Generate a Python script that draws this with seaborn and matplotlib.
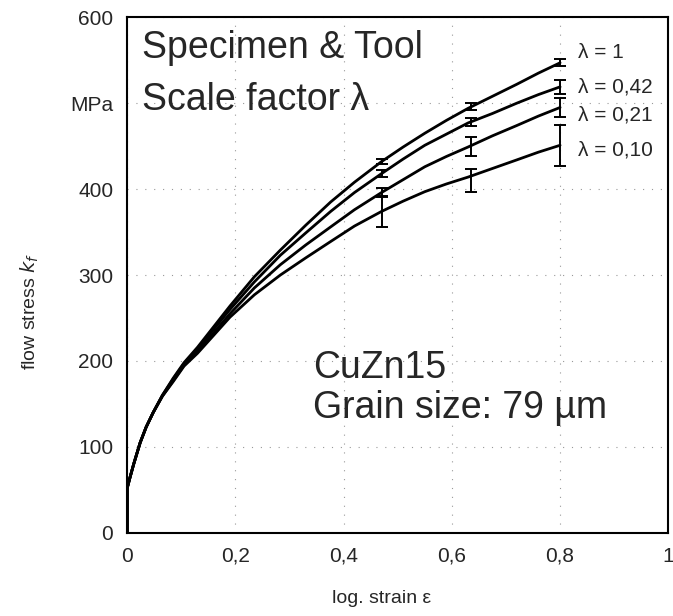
import numpy as np
import pandas as pd
import matplotlib
matplotlib.use("Agg")
import matplotlib.pyplot as plt
import seaborn as sns

# Flow curves of CuZn15 (grain size 79 µm) for four scale factors
strain = [0.0, 0.0, 0.005, 0.012, 0.024, 0.035, 0.048, 0.065, 0.085, 0.105, 0.13, 0.16,
          0.19, 0.235, 0.283, 0.33, 0.376, 0.42, 0.47, 0.51, 0.55, 0.59, 0.63, 0.675,
          0.72, 0.76, 0.80]
stress_l100 = [0, 52, 64, 80, 105, 123, 140, 160, 180, 198, 216, 240,
               264, 298, 329, 358, 385, 408, 432, 449, 465, 480, 494, 508,
               522, 535, 547]
stress_l042 = [0, 52, 64, 80, 105, 123, 140, 160, 179, 197, 214, 237,
               260, 292, 323, 349, 374, 396, 418, 435, 451, 464, 477, 488,
               500, 510, 519]
stress_l021 = [0, 52, 64, 80, 105, 123, 140, 159, 177, 195, 211, 233,
               255, 285, 312, 335, 356, 376, 396, 411, 426, 438, 449, 462,
               474, 485, 495]
stress_l010 = [0, 52, 64, 80, 105, 123, 140, 159, 176, 194, 209, 230,
               251, 277, 300, 320, 339, 357, 374, 386, 397, 406, 414, 424,
               434, 443, 451]

series_labels = ["λ = 1", "λ = 0,42", "λ = 0,21", "λ = 0,10"]

# Measured points with scatter bands
meas_strain = [0.47, 0.635, 0.80]
meas_l100 = [432, 496, 547]
meas_l042 = [418, 478, 519]
meas_l021 = [396, 450, 495]
meas_l010 = [374, 410, 451]
err_l100 = [3, 4, 4]
err_l042 = [4, 5, 8]
err_l021 = [5, 11, 11]
err_l010 = [18, 13, 24]

x_ticks = [0, 0.2, 0.4, 0.6, 0.8, 1.0]
x_ticklabels = ["0", "0,2", "0,4", "0,6", "0,8", "1"]
y_ticks = [0, 100, 200, 300, 400, 500, 600]
y_ticklabels = ["0", "100", "200", "300", "400", "MPa", "600"]

sns.set_theme(style="white")
plt.rcParams["font.family"] = ["Liberation Sans", "DejaVu Sans"]

curves = [stress_l100, stress_l042, stress_l021, stress_l010]
df = pd.concat(
    [pd.DataFrame({"strain": strain, "stress": s, "scale": lab})
     for s, lab in zip(curves, series_labels)],
    ignore_index=True,
)

fig = plt.figure(figsize=(6.73, 6.16), dpi=100)
ax = fig.add_axes([0.189, 0.135, 0.804, 0.837])

sns.lineplot(data=df, x="strain", y="stress", hue="scale",
             estimator=None, sort=False, palette=["black"] * 4,
             linewidth=2.0, legend=False, ax=ax)

for vals, errs in zip([meas_l100, meas_l042, meas_l021, meas_l010],
                      [err_l100, err_l042, err_l021, err_l010]):
    ax.errorbar(meas_strain, vals, yerr=errs, fmt="none", ecolor="black",
                elinewidth=1.4, capsize=4, capthick=1.4)

# curve labels at the right end
label_y = [559, 519, 486, 445]
for lab, yy in zip(series_labels, label_y):
    ax.text(0.834, yy, lab, fontsize=15, va="center", ha="left")

ax.text(0.028, 552, "Specimen & Tool", fontsize=27, va="baseline", ha="left")
ax.text(0.028, 492, "Scale factor λ", fontsize=27, va="baseline", ha="left")
ax.text(0.344, 180, "CuZn15", fontsize=27, va="baseline", ha="left")
ax.text(0.344, 134, "Grain size: 79 µm", fontsize=27, va="baseline", ha="left")

ax.set_xlim(0, 1)
ax.set_ylim(0, 600)
ax.set_xticks(x_ticks)
ax.set_xticklabels(x_ticklabels, fontsize=15)
ax.set_yticks(y_ticks)
ax.set_yticklabels(y_ticklabels, fontsize=15)
ax.tick_params(axis="both", direction="out", length=4, width=1, color="black", pad=6)
ax.grid(True, linestyle=(0, (1, 7)), color="0.6", linewidth=0.8)
for sp in ax.spines.values():
    sp.set_color("black")
    sp.set_linewidth(1.5)

ax.set_xlabel("log. strain ε", fontsize=14)
ax.set_ylabel("flow stress $k_f$", fontsize=14)
ax.xaxis.set_label_coords(0.47, -0.11)
ax.yaxis.set_label_coords(-0.16, 0.43)

fig.savefig("out.png", dpi=100)
